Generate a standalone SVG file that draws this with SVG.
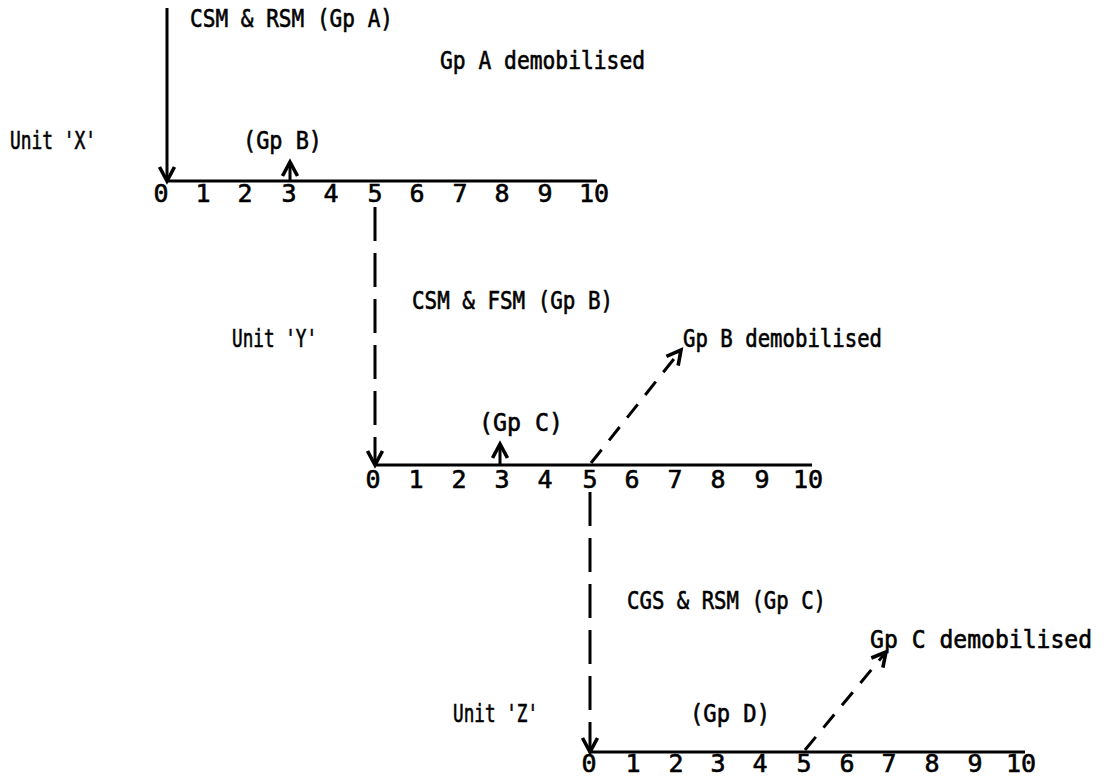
<svg xmlns="http://www.w3.org/2000/svg" width="1104" height="777" viewBox="0 0 1104 777">
  <style>
    text { font-family: "DejaVu Sans Mono", "Liberation Mono", monospace; fill: #000; stroke: #000; stroke-width: 0.6; }
    .lbl { font-size: 24px; }
    .num { font-size: 25px; text-anchor: middle; }
    .axis { stroke: #000; stroke-width: 3; fill: none; }
    .solid { stroke: #000; stroke-width: 3; fill: none; }
    .dash { stroke: #000; stroke-width: 3; fill: none; stroke-dasharray: 34 12; }
    .slant { stroke: #000; stroke-width: 3; fill: none; stroke-dasharray: 17 12; }
  </style>
  <defs>
    <marker id="head" viewBox="-16 -10 20 20" markerWidth="20" markerHeight="20" refX="0" refY="0" orient="auto" markerUnits="userSpaceOnUse" overflow="visible">
      <path d="M-14,-7.5 L0,0 L-14,7.5" fill="none" stroke="#000" stroke-width="3.6" stroke-linejoin="miter"/>
    </marker>
  </defs>

  <!-- Unit X timeline -->
  <g id="unit-x">
    <text class="lbl" x="10" y="149" textLength="86" lengthAdjust="spacingAndGlyphs">Unit 'X'</text>
    <line class="axis" x1="167" y1="181" x2="597" y2="181"/>
    <g class="ticks">
      <text class="num" x="161" y="202">0</text>
      <text class="num" x="203" y="202">1</text>
      <text class="num" x="245" y="202">2</text>
      <text class="num" x="289" y="202">3</text>
      <text class="num" x="331" y="202">4</text>
      <text class="num" x="375" y="202">5</text>
      <text class="num" x="417" y="202">6</text>
      <text class="num" x="460" y="202">7</text>
      <text class="num" x="502" y="202">8</text>
      <text class="num" x="545" y="202">9</text>
      <text class="num" x="594" y="202">10</text>
    </g>
    <text class="lbl" x="243" y="149" textLength="79" lengthAdjust="spacingAndGlyphs">(Gp B)</text>
  </g>

  <!-- Unit Y timeline -->
  <g id="unit-y">
    <text class="lbl" x="232" y="347" textLength="85" lengthAdjust="spacingAndGlyphs">Unit 'Y'</text>
    <line class="axis" x1="374" y1="465" x2="812" y2="465"/>
    <g class="ticks">
      <text class="num" x="373" y="488">0</text>
      <text class="num" x="416" y="488">1</text>
      <text class="num" x="459" y="488">2</text>
      <text class="num" x="502" y="488">3</text>
      <text class="num" x="545" y="488">4</text>
      <text class="num" x="590" y="488">5</text>
      <text class="num" x="632" y="488">6</text>
      <text class="num" x="675" y="488">7</text>
      <text class="num" x="718" y="488">8</text>
      <text class="num" x="762" y="488">9</text>
      <text class="num" x="808" y="488">10</text>
    </g>
    <text class="lbl" x="479" y="431" textLength="84" lengthAdjust="spacingAndGlyphs">(Gp C)</text>
  </g>

  <!-- Unit Z timeline -->
  <g id="unit-z">
    <text class="lbl" x="453" y="722" textLength="85" lengthAdjust="spacingAndGlyphs">Unit 'Z'</text>
    <line class="axis" x1="590" y1="752" x2="1025" y2="752"/>
    <g class="ticks">
      <text class="num" x="589" y="772">0</text>
      <text class="num" x="633" y="772">1</text>
      <text class="num" x="676" y="772">2</text>
      <text class="num" x="718" y="772">3</text>
      <text class="num" x="760" y="772">4</text>
      <text class="num" x="804" y="772">5</text>
      <text class="num" x="847" y="772">6</text>
      <text class="num" x="889" y="772">7</text>
      <text class="num" x="932" y="772">8</text>
      <text class="num" x="975" y="772">9</text>
      <text class="num" x="1021" y="772">10</text>
    </g>
    <text class="lbl" x="690" y="722" textLength="80" lengthAdjust="spacingAndGlyphs">(Gp D)</text>
  </g>

  <!-- Group movements -->
  <g id="labels">
    <text class="lbl" x="190" y="27" textLength="203" lengthAdjust="spacingAndGlyphs">CSM &amp; RSM (Gp A)</text>
    <text class="lbl" x="440" y="69" textLength="205" lengthAdjust="spacingAndGlyphs">Gp A demobilised</text>
    <text class="lbl" x="412" y="309" textLength="201" lengthAdjust="spacingAndGlyphs">CSM &amp; FSM (Gp B)</text>
    <text class="lbl" x="683" y="347" textLength="199" lengthAdjust="spacingAndGlyphs">Gp B demobilised</text>
    <text class="lbl" x="870" y="648" textLength="222" lengthAdjust="spacingAndGlyphs">Gp C demobilised</text>
    <text class="lbl" x="627" y="609" textLength="199" lengthAdjust="spacingAndGlyphs">CGS &amp; RSM (Gp C)</text>
  </g>

  <!-- Connectors -->
  <g id="connectors">
    <line class="solid" x1="167" y1="8" x2="167" y2="181" marker-end="url(#head)"/>
    <line class="solid" x1="290" y1="181" x2="290" y2="162" marker-end="url(#head)"/>
    <line class="dash" x1="375" y1="207" x2="375" y2="465" marker-end="url(#head)"/>
    <line class="solid" x1="500" y1="465" x2="500" y2="444" marker-end="url(#head)"/>
    <line class="slant" x1="591" y1="463" x2="681" y2="350" marker-end="url(#head)"/>
    <line class="dash" x1="590" y1="492" x2="590" y2="752" marker-end="url(#head)"/>
    <line class="slant" x1="805" y1="750" x2="886" y2="652" marker-end="url(#head)"/>
  </g>
</svg>
